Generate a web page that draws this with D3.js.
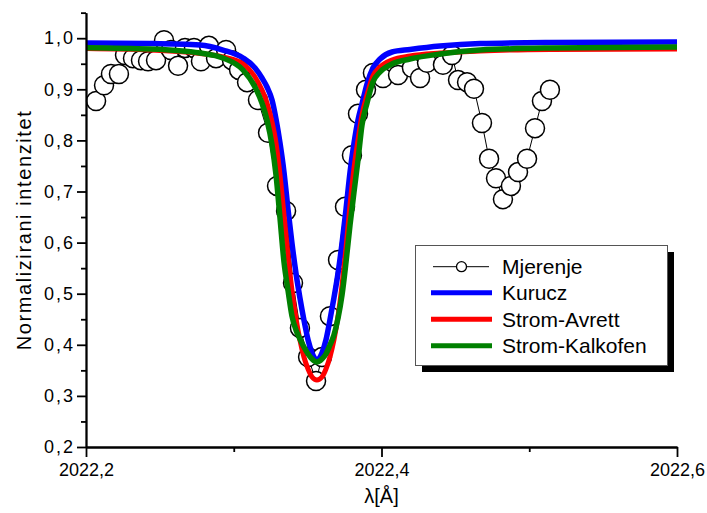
<!DOCTYPE html>
<html>
<head>
<meta charset="utf-8">
<script src="https://cdn.jsdelivr.net/npm/d3@7/dist/d3.min.js"></script>
<style>
  body { margin: 0; background: #fff; }
  svg { display: block; font-family: "Liberation Sans", Arial, sans-serif; }
</style>
</head>
<body>
<svg id="chart" width="707" height="513"></svg>
<script>
// ---- Measured data (Mjerenje) ----
const measLambda = [
  2022.2068, 2022.2122, 2022.2169, 2022.2223, 2022.2264, 2022.2318, 2022.2372, 2022.2420,
  2022.2474, 2022.2528, 2022.2575, 2022.2623, 2022.2670, 2022.2731, 2022.2778, 2022.2832,
  2022.2880, 2022.2948, 2022.2988, 2022.3036, 2022.3090, 2022.3164, 2022.3232, 2022.3293,
  2022.3354, 2022.3401, 2022.3448, 2022.3503, 2022.3557, 2022.3597, 2022.3651, 2022.3706,
  2022.3753, 2022.3800, 2022.3841, 2022.3895, 2022.3942, 2022.4010, 2022.4112, 2022.4206,
  2022.4261, 2022.4308, 2022.4416, 2022.4477, 2022.4518, 2022.4579, 2022.4626, 2022.4680,
  2022.4728, 2022.4775, 2022.4822, 2022.4876, 2022.4924, 2022.4985, 2022.5039, 2022.5086,
  2022.5140
];
const measValues = [
  0.877, 0.908, 0.930, 0.930, 0.967, 0.961, 0.957, 0.955,
  0.957, 0.996, 0.977, 0.946, 0.981, 0.981, 0.955, 0.985,
  0.961, 0.977, 0.957, 0.938, 0.914, 0.879, 0.815, 0.711,
  0.662, 0.521, 0.433, 0.376, 0.329, 0.376, 0.456, 0.566,
  0.670, 0.771, 0.852, 0.899, 0.932, 0.922, 0.928, 0.942,
  0.922, 0.952, 0.948, 0.967, 0.918, 0.914, 0.901, 0.834,
  0.764, 0.726, 0.685, 0.711, 0.738, 0.764, 0.824, 0.877,
  0.899
];

// ---- Model profiles (shared wavelength grid) ----
const modelLambda = [
  2022.2000, 2022.2433, 2022.2772, 2022.2927, 2022.3063, 2022.3144, 2022.3191, 2022.3225,
  2022.3259, 2022.3286, 2022.3313, 2022.3340, 2022.3367, 2022.3394, 2022.3421, 2022.3448,
  2022.3475, 2022.3503, 2022.3530, 2022.3563, 2022.3597, 2022.3624, 2022.3651, 2022.3678,
  2022.3706, 2022.3733, 2022.3760, 2022.3787, 2022.3814, 2022.3841, 2022.3868, 2022.3902,
  2022.3942, 2022.3990, 2022.4071, 2022.4193, 2022.4396, 2022.4667, 2022.5140, 2022.6000
];
const kurucz = [
  0.9906, 0.9896, 0.9867, 0.9769, 0.9613, 0.9417, 0.9221, 0.9045,
  0.8791, 0.8419, 0.7949, 0.7382, 0.6658, 0.5992, 0.5405, 0.4916,
  0.4485, 0.4094, 0.3840, 0.3703, 0.3840, 0.4094, 0.4485, 0.4916,
  0.5405, 0.5992, 0.6658, 0.7382, 0.7949, 0.8399, 0.8712, 0.9104,
  0.9417, 0.9593, 0.9730, 0.9779, 0.9847, 0.9896, 0.9916, 0.9926
];
const stromAvrett = [
  0.9798, 0.9769, 0.9701, 0.9632, 0.9495, 0.9241, 0.8986, 0.8732,
  0.8360, 0.7949, 0.7323, 0.6540, 0.5757, 0.5072, 0.4524, 0.4094,
  0.3761, 0.3526, 0.3370, 0.3311, 0.3370, 0.3526, 0.3761, 0.4094,
  0.4564, 0.5170, 0.5894, 0.6736, 0.7460, 0.8008, 0.8497, 0.8888,
  0.9260, 0.9436, 0.9573, 0.9652, 0.9710, 0.9750, 0.9779, 0.9789
];
const stromKalkofen = [
  0.9814, 0.9789, 0.9710, 0.9613, 0.9378, 0.9045, 0.8732, 0.8399,
  0.7910, 0.7323, 0.6481, 0.5620, 0.5072, 0.4564, 0.4290, 0.4114,
  0.3957, 0.3820, 0.3722, 0.3663, 0.3722, 0.3820, 0.3996, 0.4192,
  0.4524, 0.4975, 0.5620, 0.6344, 0.6990, 0.7616, 0.8301, 0.8732,
  0.9143, 0.9339, 0.9495, 0.9593, 0.9691, 0.9769, 0.9808, 0.9828
];

const xTicksMajor = [2022.2, 2022.4, 2022.6];
const xTicksMinor = [2022.3, 2022.5];
const yTicksMajor = [0.2, 0.3, 0.4, 0.5, 0.6, 0.7, 0.8, 0.9, 1.0];
const yTicksMinor = [0.25, 0.35, 0.45, 0.55, 0.65, 0.75, 0.85, 0.95, 1.05];

const seriesNames = ["Mjerenje", "Kurucz", "Strom-Avrett", "Strom-Kalkofen"];
const seriesColors = ["#000000", "#0000ff", "#ff0000", "#008000"];

// ---- Drawing ----
const svg = d3.select("#chart");
const x = d3.scaleLinear().domain([2022.2, 2022.6]).range([86, 677]);
const y = d3.scaleLinear().domain([0.2, 1.05]).range([447, 12.65]);
const loc = d3.formatLocale({decimal: ",", thousands: ".", grouping: [3], currency: ["", ""]});
const fmt = loc.format(".1f");

// measured connecting line + circles
const meas = measLambda.map((l, i) => [l, measValues[i]]);
svg.append("path")
  .datum(meas)
  .attr("fill", "none")
  .attr("stroke", "#000")
  .attr("stroke-width", 1)
  .attr("d", d3.line().x(d => x(d[0])).y(d => y(d[1])));
svg.append("g").selectAll("circle")
  .data(meas).join("circle")
  .attr("cx", d => x(d[0])).attr("cy", d => y(d[1]))
  .attr("r", 9.5)
  .attr("fill", "#fff").attr("stroke", "#000").attr("stroke-width", 1.5);

// model curves
const models = [
  {vals: kurucz, color: seriesColors[1], w: 5.5},
  {vals: stromAvrett, color: seriesColors[2], w: 5},
  {vals: stromKalkofen, color: seriesColors[3], w: 5.5}
];
const mline = d3.line().curve(d3.curveMonotoneX).x(d => x(d[0])).y(d => y(d[1]));
models.forEach(m => {
  svg.append("path")
    .datum(modelLambda.map((l, i) => [l, m.vals[i]]))
    .attr("fill", "none")
    .attr("stroke", m.color)
    .attr("stroke-width", m.w)
    .attr("stroke-linejoin", "round")
    .attr("d", mline);
});

// axes
const axisStroke = 1.8;
svg.append("g").attr("transform", "translate(0,447)")
  .call(d3.axisBottom(x).tickValues(xTicksMajor).tickFormat(fmt).tickSize(10).tickSizeOuter(0).tickPadding(6));
svg.append("g").attr("transform", "translate(0,447)")
  .call(d3.axisBottom(x).tickValues(xTicksMinor).tickFormat("").tickSize(5).tickSizeOuter(0));
const gy = svg.append("g").attr("transform", "translate(86,0)")
  .call(d3.axisLeft(y).tickValues(yTicksMajor).tickFormat(fmt).tickSize(9).tickSizeOuter(0).tickPadding(2));
svg.append("g").attr("transform", "translate(86,0)")
  .call(d3.axisLeft(y).tickValues(yTicksMinor).tickFormat("").tickSize(5).tickSizeOuter(0));
svg.selectAll(".domain, .tick line").attr("stroke", "#000").attr("stroke-width", axisStroke);
svg.selectAll(".tick text").attr("fill", "#000").attr("font-size", 18)
  .attr("font-family", "'Liberation Sans', Arial, sans-serif");
gy.selectAll(".tick text").attr("letter-spacing", "2px");

// axis titles
svg.append("text")
  .attr("x", 381.5).attr("y", 503)
  .attr("text-anchor", "middle").attr("font-size", 20)
  .text("λ[Å]");
svg.append("text")
  .attr("transform", "translate(31,230) rotate(-90)")
  .attr("text-anchor", "middle").attr("font-size", 20).attr("letter-spacing", "1.6px")
  .text("Normalizirani intenzitet");

// legend
const lg = svg.append("g");
lg.append("rect").attr("x", 422).attr("y", 252).attr("width", 252).attr("height", 120).attr("fill", "#000");
lg.append("rect").attr("x", 415.5).attr("y", 245.5).attr("width", 252).attr("height", 120)
  .attr("fill", "#fff").attr("stroke", "#555").attr("stroke-width", 1);
const rowY = [266.7, 292.7, 319.3, 345.7];
seriesNames.forEach((name, i) => {
  const cy = rowY[i];
  if (i === 0) {
    lg.append("line").attr("x1", 433).attr("x2", 489).attr("y1", cy).attr("y2", cy)
      .attr("stroke", "#000").attr("stroke-width", 1);
    lg.append("circle").attr("cx", 461.5).attr("cy", cy).attr("r", 5)
      .attr("fill", "#fff").attr("stroke", "#000").attr("stroke-width", 1.3);
  } else {
    lg.append("line").attr("x1", 431).attr("x2", 492).attr("y1", cy).attr("y2", cy)
      .attr("stroke", seriesColors[i]).attr("stroke-width", 5);
  }
  lg.append("text").attr("x", 502).attr("y", cy + 7.6)
    .attr("font-size", 21).attr("fill", "#000").text(name);
});
</script>
</body>
</html>
